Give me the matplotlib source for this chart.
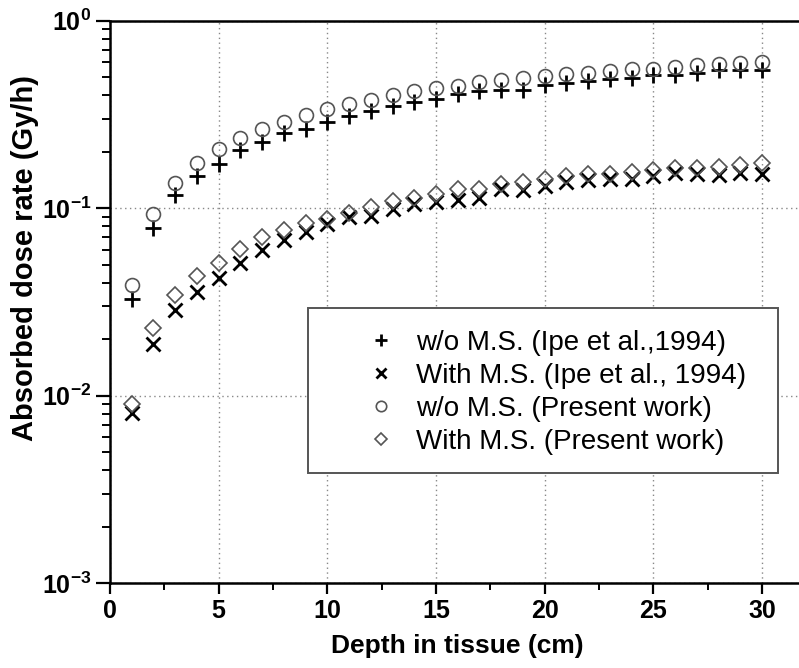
import matplotlib
matplotlib.use("Agg")
import matplotlib.pyplot as plt
from matplotlib.patches import Rectangle
from matplotlib.ticker import FixedLocator, LogLocator, NullFormatter
import numpy as np

plt.rcParams['font.family'] = ['Liberation Sans', 'DejaVu Sans']
plt.rcParams['mathtext.fontset'] = 'custom'
plt.rcParams['mathtext.rm'] = 'Liberation Sans'
plt.rcParams['mathtext.bf'] = 'Liberation Sans:bold'

depth = list(range(1, 31))

wo_ms_ipe = [0.0330, 0.0785, 0.117, 0.149, 0.173, 0.205, 0.225, 0.252, 0.266, 0.287,
             0.310, 0.328, 0.353, 0.368, 0.384, 0.405, 0.421, 0.425, 0.428, 0.452,
             0.465, 0.476, 0.486, 0.496, 0.511, 0.511, 0.525, 0.543, 0.543, 0.545]
with_ms_ipe = [0.0081, 0.0188, 0.0286, 0.0358, 0.0427, 0.0513, 0.0602, 0.0675, 0.0747, 0.0821,
               0.0898, 0.0906, 0.0987, 0.105, 0.108, 0.110, 0.114, 0.126, 0.125, 0.132,
               0.138, 0.141, 0.144, 0.144, 0.149, 0.154, 0.153, 0.150, 0.154, 0.153]
wo_ms_present = [0.0392, 0.0929, 0.136, 0.174, 0.208, 0.238, 0.263, 0.289, 0.313, 0.340,
                 0.361, 0.380, 0.401, 0.420, 0.436, 0.446, 0.470, 0.480, 0.494, 0.505,
                 0.521, 0.528, 0.538, 0.554, 0.554, 0.565, 0.577, 0.589, 0.594, 0.601]
with_ms_present = [0.0090, 0.0231, 0.0344, 0.0435, 0.0513, 0.0609, 0.0703, 0.0763, 0.0834, 0.0881,
                   0.0948, 0.1015, 0.109, 0.114, 0.119, 0.126, 0.127, 0.134, 0.138, 0.144,
                   0.149, 0.152, 0.152, 0.156, 0.159, 0.163, 0.163, 0.166, 0.169, 0.174]

labels = ["w/o M.S. (Ipe et al.,1994)", "With M.S. (Ipe et al., 1994)",
          "w/o M.S. (Present work)", "With M.S. (Present work)"]

x_ticks = [0, 5, 10, 15, 20, 25, 30]
y_ticks = [1e-3, 1e-2, 1e-1, 1e0]
y_tick_labels = [r'$\mathbf{10^{-3}}$', r'$\mathbf{10^{-2}}$', r'$\mathbf{10^{-1}}$', r'$\mathbf{10^{0}}$']

fig = plt.figure(figsize=(7.99, 6.68), dpi=100)
ax = fig.add_axes([110/799, 1-583.3/668, 1-110/799, (583.3-20.7)/668])

ms = 10
h1, = ax.plot(depth, wo_ms_ipe, linestyle='none', marker='+', ms=ms+1, mew=2.0, color='black')
h2, = ax.plot(depth, with_ms_ipe, linestyle='none', marker='x', ms=ms, mew=2.0, color='black')
h3, = ax.plot(depth, wo_ms_present, linestyle='none', marker='o', ms=ms, mew=1.2,
              mfc='none', mec='#555555')
h4, = ax.plot(depth, with_ms_present, linestyle='none', marker='D', ms=ms*0.8, mew=1.2,
              mfc='none', mec='#555555')

ax.set_yscale('log')
ax.set_xlim(0, 31.7)
ax.set_ylim(1e-3, 1e0)

ax.xaxis.set_major_locator(FixedLocator(x_ticks))
ax.xaxis.set_minor_locator(FixedLocator([2.5, 7.5, 12.5, 17.5, 22.5, 27.5]))
ax.set_xticklabels([str(t) for t in x_ticks])
ax.yaxis.set_major_locator(FixedLocator(y_ticks))
ax.set_yticklabels(y_tick_labels)
ax.yaxis.set_minor_locator(LogLocator(base=10, subs=np.arange(2, 10)))
ax.yaxis.set_minor_formatter(NullFormatter())

for lab in ax.get_xticklabels():
    lab.set_fontweight('bold')
ax.tick_params(axis='both', which='major', labelsize=18, length=8, width=1.6, direction='out')
ax.tick_params(axis='both', which='minor', length=5, width=1.4, direction='out')
ax.tick_params(axis='y', which='major', length=10)
ax.tick_params(axis='y', which='minor', length=6)

for s in ['left', 'bottom', 'top']:
    ax.spines[s].set_linewidth(1.8)
ax.spines['right'].set_visible(False)

ax.grid(True, which='major', linestyle=(0, (1, 2.5)), color='#888888', linewidth=1.0)

ax.set_xlabel("Depth in tissue (cm)", fontsize=19, fontweight='bold')
ax.set_ylabel("Absorbed dose rate (Gy/h)", fontsize=21, fontweight='bold')
ax.xaxis.set_label_coords((457-110)/689, -(634-583.3)/562.6)
ax.yaxis.set_label_coords((39-110)/689, (583.3-258)/562.6)

# legend frame
ax.add_patch(Rectangle(((308-110)/689, (583.3-473)/562.6), (778-308)/689, (473-308)/562.6,
                       transform=ax.transAxes, facecolor='white', edgecolor='#555555',
                       linewidth=1.4, zorder=4))
leg = ax.legend([h1, h2, h3, h4], labels, loc='upper left', frameon=False,
                bbox_to_anchor=((370-110)/689, (583.3-330)/562.6),
                fontsize=20, markerscale=0.75, handlelength=0.8, handletextpad=0.85,
                labelspacing=0.25, borderpad=0, borderaxespad=0)
leg.set_zorder(5)

fig.savefig("out.png", dpi=100)
